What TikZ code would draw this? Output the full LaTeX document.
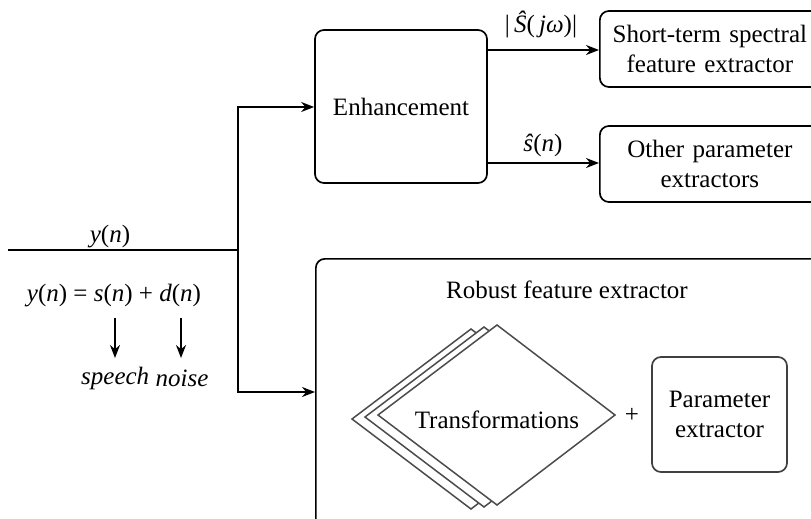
\documentclass[tikz,border=0pt]{standalone}
\usepackage{fontspec}
\setmainfont{Liberation Serif}
\usetikzlibrary{arrows.meta,shapes.geometric}
\begin{document}
\begin{tikzpicture}[x=1pt,y=-1pt,
  every node/.style={font=\fontsize{25}{30}\selectfont},
  blk/.style={draw=black,line width=1.7pt,rounded corners=9pt},
  lbl/.style={inner sep=0pt},
  conn/.style={line width=1.7pt},
  arr/.style={conn,-{Stealth[length=13pt,width=10pt]}},
  dia/.style={draw=black!70,line width=1.5pt,fill=white}]
\useasboundingbox (0,0) rectangle (811,519);
\begin{scope}
\clip (0,0) rectangle (811,519);

% processing blocks
\node[blk,minimum width=172pt,minimum height=153pt] (enh) at (401,106.5) {Enhancement};
\node[blk,minimum width=220pt,minimum height=76pt,anchor=west,align=center,
      text width=200pt] (stf) at (599,49) {Short-term spectral\\feature extractor};
\node[blk,minimum width=220pt,minimum height=76pt,anchor=west,align=center,
      text width=200pt] (opx) at (599,164) {Other parameter\\extractors};
\node[blk,anchor=north west,minimum width=520pt,minimum height=300pt] (rob) at (315,258) {};
\node[lbl] (robt) at (567,290) {Robust feature extractor};

% stacked transformation diamonds
\foreach \dx/\dy/\nm in {-26/4/d3,-13/2/d2,0/0/d1}{
  \path[dia] (378+\dx,415+\dy) -- (497+\dx,325+\dy) -- (615+\dx,415+\dy)
             -- (497+\dx,505+\dy) -- cycle;
}
\node[lbl] (trf) at (497,420) {Transformations};
\node[lbl] (plus) at (632,415) {+};
\node[blk,draw=black!75,minimum width=135pt,minimum height=115pt,align=center]
  (pex) at (719.5,414.5) {Parameter\\extractor};

% input signal and branching
\coordinate (in) at (8,250);
\coordinate (jn) at (238,250);
\coordinate (up) at (238,107);
\coordinate (dn) at (238,392);
\draw[conn] (in) -- (jn);
\draw[arr] (jn) -- (up) -- (enh.west |- up);
\draw[arr] (jn) -- (dn) -- (rob.west |- dn);
\node[lbl] (yn) at (110,237) {\textit{y}(\textit{n})};

% enhancement outputs
\coordinate (o1) at (487,50);
\coordinate (o2) at (487,163);
\draw[arr] (o1) -- (stf.west |- o1);
\draw[arr] (o2) -- (opx.west |- o2);
\node[lbl] (lab1) at (541,24) {|\,\textit{\^S}(\,\textit{jω})|};
\node[lbl] (lab2) at (543,145) {\textit{\^s}(\textit{n})};

% signal model
\node[lbl] (eq) at (114,296) {\textit{y}(\textit{n}) = \textit{s}(\textit{n}) + \textit{d}(\textit{n})};
\node[lbl,anchor=west] (sp) at (81,378) {\textit{speech}};
\node[lbl,anchor=west] (ns) at ([xshift=6pt]sp.east) {\textit{noise}};
\coordinate (a1) at (115,318);
\coordinate (a2) at (181,318);
\coordinate (b1) at (115,358);
\coordinate (b2) at (181,358);
\draw[arr] (a1) -- (b1);
\draw[arr] (a2) -- (b2);
\end{scope}
\end{tikzpicture}
\end{document}
